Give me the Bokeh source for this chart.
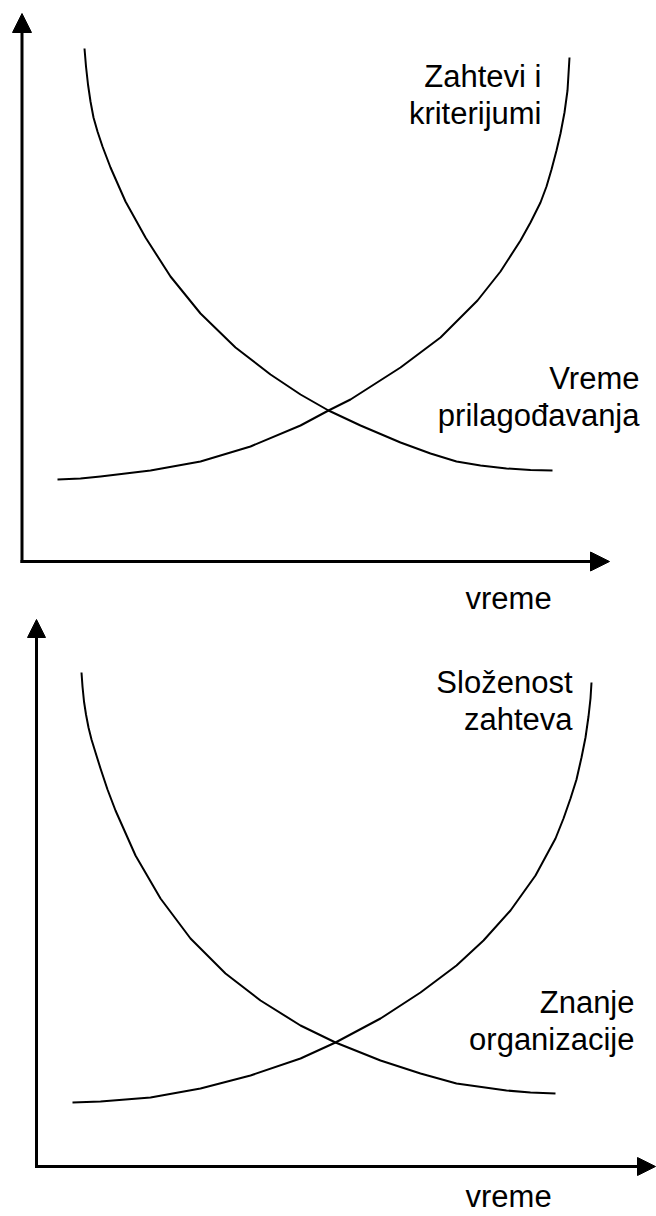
from bokeh.plotting import figure
from bokeh.models import Arrow, NormalHead, Label, Range1d, ColumnDataSource
from bokeh.layouts import column
from bokeh.embed import file_html
from bokeh.resources import INLINE

# ---------------- data (units = px from each panel's origin) ----------
# top panel
top_rise_x = [35.5, 58.5, 78.5, 128.5, 178.5, 228.5, 278.5, 306.5, 328.5, 378.5, 418.5, 455.5,
              478.5, 498.5, 508.5, 518.5, 524.5, 529.5, 534.5, 538.5, 542.5, 545.5, 547.5]
top_rise_y = [82, 83, 85, 91, 100, 115, 136, 151, 162, 194, 224, 261,
              290, 321, 339, 359, 375, 392, 411, 428, 449, 471, 504]
top_fall_x = [62.5, 64, 66, 68.5, 71.5, 75.5, 80.5, 88.5, 103.5, 123.5, 148.5, 178.5, 213.5,
              248.5, 278.5, 306.5, 338.5, 378.5, 408.5, 434.5, 458.5, 484.5, 508.5, 530.5]
top_fall_y = [513, 495, 477, 460, 444, 430, 415, 394, 360, 324, 285, 248, 214,
              187, 167, 151, 136, 119, 108, 100, 96, 93, 91.5, 91]
top_labels_upper = ["Zahtevi i", "kriterijumi"]
top_labels_lower = ["Vreme", "prilagođavanja"]

# bottom panel
bot_rise_x = [36, 64, 114, 164, 214, 264, 299, 344, 384, 420, 447, 474, 499, 519, 527, 534,
              540, 545, 549, 552, 554, 555]
bot_rise_y = [64, 65, 69, 78, 91, 108, 124, 148, 174, 201, 226, 256, 291, 328, 348, 368,
              387, 409, 429, 450, 468, 484]
bot_fall_x = [45, 46, 47.5, 49.5, 52, 55, 59, 64, 71, 79, 99, 124, 154, 189, 224, 264, 299,
              344, 384, 420, 470, 494, 519]
bot_fall_y = [494, 480, 465, 452, 439, 427, 414, 398, 377, 356, 311, 268, 228, 193, 166, 141,
              124, 106, 93, 83, 76, 74, 73]
bot_labels_upper = ["Složenost", "zahteva"]
bot_labels_lower = ["Znanje", "organizacije"]

x_axis_label = "vreme"

FONT = "Liberation Sans"
FSIZE = "31px"


def make_panel(height, xr, yr, x_tip, y_tip, head, rise, fall, upper, lower, upper_pos, lower_pos, xlab_pos):
    p = figure(width=656, height=height, x_range=Range1d(*xr), y_range=Range1d(*yr),
               x_axis_type=None, y_axis_type=None, toolbar_location=None,
               output_backend="svg", min_border=0, outline_line_color=None)
    p.min_border_left = p.min_border_right = p.min_border_top = p.min_border_bottom = 0
    # axes with arrow heads
    p.add_layout(Arrow(end=NormalHead(size=head, fill_color="black", line_color="black", line_width=1),
                       x_start=0, y_start=-1.5, x_end=0, y_end=y_tip,
                       line_width=3, line_color="black"))
    p.add_layout(Arrow(end=NormalHead(size=head, fill_color="black", line_color="black", line_width=1),
                       x_start=-1.5, y_start=0, x_end=x_tip, y_end=0,
                       line_width=3, line_color="black"))
    # curves
    for xs, ys in (rise, fall):
        src = ColumnDataSource(dict(x=xs, y=ys))
        p.line("x", "y", source=src, line_width=2, line_color="black", line_join="round")
    # labels (anchor = vertical centre of the text line)
    ux, uy, dy = upper_pos
    for i, t in enumerate(upper):
        p.add_layout(Label(x=ux, y=uy - i * dy, text=t, text_align="right", text_baseline="middle",
                           text_font=FONT, text_font_size=FSIZE, text_color="black"))
    lx, ly, dy2 = lower_pos
    for i, t in enumerate(lower):
        p.add_layout(Label(x=lx, y=ly - i * dy2, text=t, text_align="right", text_baseline="middle",
                           text_font=FONT, text_font_size=FSIZE, text_color="black"))
    p.add_layout(Label(x=xlab_pos[0], y=xlab_pos[1], text=x_axis_label, text_align="left",
                       text_baseline="middle", text_font=FONT, text_font_size=FSIZE,
                       text_color="black"))
    return p


p1 = make_panel(618, (-21.5, 634.5), (-57, 561), 587.5, 548, 19,
                (top_rise_x, top_rise_y), (top_fall_x, top_fall_y),
                top_labels_upper, top_labels_lower,
                (519.5, 485, 37), (617.5, 183, 37), (443.5, -37))

p2 = make_panel(598, (-36, 620), (-50, 548), 619, 547, 18,
                (bot_rise_x, bot_rise_y), (bot_fall_x, bot_fall_y),
                bot_labels_upper, bot_labels_lower,
                (536, 484, 37), (598, 164, 37), (429, -30))

layout = column(p1, p2, spacing=0)
open("out.html", "w").write(file_html(layout, INLINE))
